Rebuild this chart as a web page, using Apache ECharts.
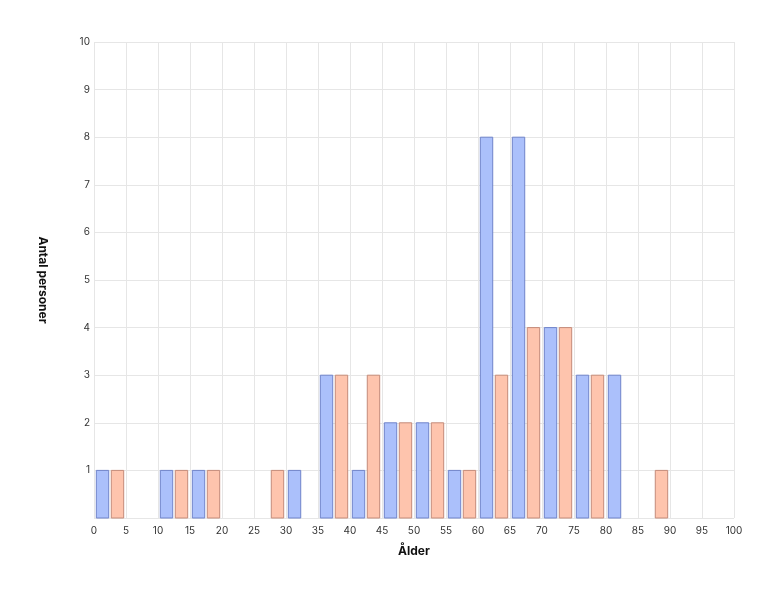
<!DOCTYPE html>
<html>
<head>
<meta charset="utf-8">
<script src="https://cdn.jsdelivr.net/npm/echarts@6/dist/echarts.min.js"></script>
<style>
  html, body { margin: 0; padding: 0; background: #fff; }
  #chart { width: 774px; height: 594px; }
</style>
</head>
<body>
<div id="chart"></div>
<script>
// Age bins (start of each 5-year bin)
const binStarts = [0, 5, 10, 15, 20, 25, 30, 35, 40, 45, 50, 55, 60, 65, 70, 75, 80, 85, 90, 95];
const blueValues = [1, 0, 1, 1, 0, 0, 1, 3, 1, 2, 2, 1, 8, 8, 4, 3, 3, 0, 0, 0];
const orangeValues = [1, 0, 1, 1, 0, 1, 0, 3, 3, 2, 2, 1, 3, 4, 4, 3, 0, 1, 0, 0];
const binSize = 5;

const chartDom = document.getElementById('chart');
const chart = echarts.init(chartDom, null, { renderer: 'canvas' });

const FONT = 'Inter, "DejaVu Sans", sans-serif';

// bar span inside each bin, as a fraction of the bin
function makeRender(fromFrac, toFrac, fill, stroke) {
    return function (params, api) {
        const start = api.value(0);
        const val = api.value(1);
        if (!val) return null;
        const p0 = api.coord([start + binSize * fromFrac, val]);
        const p1 = api.coord([start + binSize * toFrac, 0]);
        return {
            type: 'rect',
            shape: { x: p0[0], y: p0[1], width: p1[0] - p0[0], height: p1[1] - p0[1] },
            style: { fill: fill, stroke: stroke, lineWidth: 1 }
        };
    };
}

const option = {
    backgroundColor: '#ffffff',
    animation: false,
    grid: { left: 94, right: 40, top: 42, bottom: 76 },
    xAxis: {
        type: 'value',
        min: 0,
        max: 100,
        interval: 5,
        name: 'Ålder',
        nameLocation: 'middle',
        nameGap: 27,
        nameTextStyle: { color: '#111', fontSize: 12, fontWeight: 'bold', fontFamily: FONT },
        axisLine: { show: false },
        axisTick: { show: false },
        axisLabel: { color: '#333', fontSize: 10, fontFamily: FONT, margin: 8 },
        splitLine: { show: true, lineStyle: { color: '#e6e6e6', width: 1 } }
    },
    yAxis: {
        type: 'value',
        min: 0,
        max: 10,
        interval: 1,
        name: 'Antal personer',
        nameLocation: 'middle',
        nameRotate: -90,
        nameGap: 45,
        nameTextStyle: { color: '#111', fontSize: 12, fontWeight: 'bold', fontFamily: FONT },
        axisLine: { show: false },
        axisTick: { show: false },
        axisLabel: {
            color: '#333', fontSize: 10, fontFamily: FONT, margin: 4,
            padding: [4, 0, 0, 0],
            formatter: function (v) { return v === 0 ? '' : String(v); }
        },
        splitLine: { show: true, lineStyle: { color: '#e6e6e6', width: 1 } }
    },
    series: [
        {
            name: 'blue',
            type: 'custom',
            renderItem: makeRender(0.072, 0.46, '#abc0fb', '#6f83c9'),
            encode: { x: 0, y: 1 },
            data: binStarts.map((s, i) => [s, blueValues[i]])
        },
        {
            name: 'orange',
            type: 'custom',
            renderItem: makeRender(0.54, 0.928, '#fec4ad', '#c48b79'),
            encode: { x: 0, y: 1 },
            data: binStarts.map((s, i) => [s, orangeValues[i]])
        }
    ]
};

chart.setOption(option);
</script>
</body>
</html>
